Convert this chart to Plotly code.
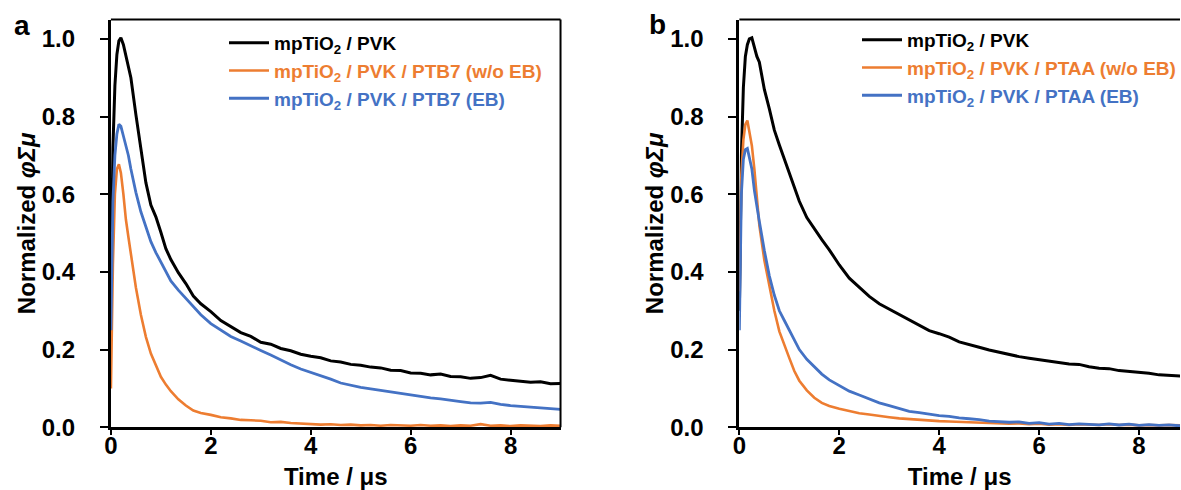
import plotly.graph_objects as go

# ---------------- data ----------------
t_head = [0, 0.04, 0.08, 0.12, 0.16, 0.2, 0.25, 0.3, 0.35, 0.4, 0.5, 0.6, 0.7, 0.8, 0.9,
          1.0, 1.1, 1.2, 1.35, 1.5, 1.65, 1.8, 2.0]
t_tail = [2.2, 2.4, 2.6, 2.8, 3.0, 3.2, 3.4, 3.6, 3.8, 4.0, 4.2, 4.4, 4.6, 4.8, 5.0,
          5.2, 5.4, 5.6, 5.8, 6.0, 6.2, 6.4, 6.6, 6.8, 7.0, 7.2, 7.4, 7.6, 7.8, 8.0,
          8.2, 8.4, 8.6, 8.8, 9.0]
time_us = t_head + t_tail

# panel a
a_pvk = [0.30, 0.72, 0.88, 0.96, 0.995, 1.003, 0.985, 0.955, 0.93, 0.90, 0.805, 0.715, 0.63,
         0.572, 0.542, 0.502, 0.460, 0.432, 0.398, 0.370, 0.338, 0.318, 0.298,
         0.275, 0.260, 0.244, 0.234, 0.219, 0.214, 0.203, 0.197, 0.188, 0.183, 0.179,
         0.171, 0.168, 0.162, 0.160, 0.155, 0.153, 0.147, 0.146, 0.140, 0.139, 0.135,
         0.137, 0.131, 0.130, 0.126, 0.128, 0.134, 0.124, 0.121, 0.119, 0.116, 0.117,
         0.112, 0.113]
a_ptb7_woeb = [0.10, 0.42, 0.60, 0.665, 0.677, 0.655, 0.60, 0.535, 0.49, 0.447, 0.36, 0.29,
               0.233, 0.19, 0.158, 0.130, 0.110, 0.093, 0.072, 0.056, 0.043, 0.037, 0.032,
               0.026, 0.023, 0.019, 0.018, 0.017, 0.013, 0.014, 0.011, 0.010, 0.009, 0.007,
               0.008, 0.006, 0.007, 0.005, 0.006, 0.004, 0.006, 0.005, 0.004, 0.006, 0.004,
               0.005, 0.003, 0.005, 0.004, 0.008, 0.004, 0.005, 0.003, 0.005, 0.004, 0.003,
               0.005, 0.004]
a_ptb7_eb = [0.25, 0.58, 0.70, 0.755, 0.78, 0.775, 0.75, 0.725, 0.70, 0.665, 0.605, 0.555,
             0.515, 0.478, 0.450, 0.425, 0.400, 0.377, 0.353, 0.332, 0.310, 0.290, 0.267,
             0.250, 0.234, 0.222, 0.209, 0.198, 0.186, 0.173, 0.161, 0.150, 0.142, 0.132,
             0.124, 0.114, 0.108, 0.103, 0.099, 0.095, 0.091, 0.087, 0.084, 0.080, 0.076,
             0.073, 0.069, 0.066, 0.063, 0.062, 0.064, 0.059, 0.056, 0.054, 0.051, 0.049,
             0.047, 0.046]

# panel b
b_pvk = [0.30, 0.70, 0.875, 0.955, 0.985, 1.0, 1.003, 0.98, 0.955, 0.94, 0.87, 0.82, 0.765,
         0.727, 0.69, 0.655, 0.615, 0.582, 0.540, 0.510, 0.483, 0.457, 0.418,
         0.384, 0.360, 0.337, 0.318, 0.304, 0.291, 0.276, 0.262, 0.249, 0.241, 0.232,
         0.220, 0.212, 0.206, 0.199, 0.193, 0.189, 0.182, 0.178, 0.174, 0.170, 0.166,
         0.163, 0.162, 0.156, 0.152, 0.151, 0.146, 0.144, 0.141, 0.139, 0.135, 0.134,
         0.132, 0.131]
b_ptaa_woeb = [0.35, 0.65, 0.74, 0.78, 0.79, 0.765, 0.725, 0.665, 0.59, 0.52, 0.43, 0.36,
               0.30, 0.247, 0.21, 0.178, 0.145, 0.120, 0.095, 0.076, 0.063, 0.055, 0.048,
               0.042, 0.036, 0.033, 0.029, 0.026, 0.023, 0.021, 0.019, 0.018, 0.016, 0.015,
               0.014, 0.013, 0.012, 0.011, 0.010, 0.009, 0.010, 0.008, 0.009, 0.007, 0.008,
               0.006, 0.008, 0.007, 0.006, 0.008, 0.006, 0.007, 0.005, 0.006, 0.005, 0.006,
               0.005, 0.005]
b_ptaa_eb = [0.25, 0.60, 0.69, 0.715, 0.718, 0.695, 0.665, 0.61, 0.565, 0.53, 0.455, 0.39,
             0.34, 0.30, 0.275, 0.25, 0.222, 0.200, 0.175, 0.155, 0.137, 0.122, 0.107,
             0.093, 0.083, 0.073, 0.063, 0.056, 0.048, 0.041, 0.038, 0.034, 0.030, 0.028,
             0.024, 0.022, 0.020, 0.016, 0.015, 0.013, 0.014, 0.010, 0.012, 0.008, 0.010,
             0.007, 0.009, 0.008, 0.006, 0.009, 0.006, 0.008, 0.005, 0.007, 0.005, 0.006,
             0.004, 0.005]

x_ticks = [0, 2, 4, 6, 8]
y_ticks = [0.0, 0.2, 0.4, 0.6, 0.8, 1.0]
y_tick_text = ["0.0", "0.2", "0.4", "0.6", "0.8", "1.0"]

BLACK = "#000000"
ORANGE = "#ED7D31"
BLUE = "#4472C4"

names_a = ["mpTiO<sub>2</sub> / PVK",
           "mpTiO<sub>2</sub> / PVK / PTB7 (w/o EB)",
           "mpTiO<sub>2</sub> / PVK / PTB7 (EB)"]
names_b = ["mpTiO<sub>2</sub> / PVK",
           "mpTiO<sub>2</sub> / PVK / PTAA (w/o EB)",
           "mpTiO<sub>2</sub> / PVK / PTAA (EB)"]

FONT = "Liberation Sans, Arial, sans-serif"
W, H = 1181, 490

fig = go.Figure()

def add(y, name, color, width, xa, ya, leg, grp):
    fig.add_trace(go.Scatter(
        x=time_us, y=y, mode="lines", xaxis=xa, yaxis=ya,
        line=dict(color=color, width=width),
        name=f"<span style='color:{color}'>{name}</span>",
        legend=leg, legendgroup=grp, showlegend=True))

add(a_pvk, names_a[0], BLACK, 3.0, "x", "y", "legend", "a1")
add(a_ptb7_woeb, names_a[1], ORANGE, 2.6, "x", "y", "legend", "a2")
add(a_ptb7_eb, names_a[2], BLUE, 2.8, "x", "y", "legend", "a3")
add(b_pvk, names_b[0], BLACK, 3.0, "x2", "y2", "legend2", "b1")
add(b_ptaa_woeb, names_b[1], ORANGE, 2.6, "x2", "y2", "legend2", "b2")
add(b_ptaa_eb, names_b[2], BLUE, 2.8, "x2", "y2", "legend2", "b3")

# pixel geometry
ya_bot, ya_top = 427.3, 19.5
xa_l, xa_r = 111, 561
xb_l, xb_r = 740, 1181
ydom = [(H - ya_bot) / H, (H - ya_top) / H]

tickfont = dict(family=FONT, size=24, color="black", weight="bold")
titlefont = dict(family=FONT, size=24, color="black", weight="bold")

common_x = dict(showline=True, linewidth=3, linecolor="black", ticks="outside",
                ticklen=5, tickwidth=2, tickcolor="black", showgrid=False, zeroline=False,
                tickvals=x_ticks, tickfont=tickfont, automargin=False,
                ticklabelstandoff=-10,
                title=dict(text="Time / μs", font=titlefont, standoff=14))
common_y = dict(showline=True, linewidth=3, linecolor="black", ticks="outside",
                ticklen=8, tickwidth=2, tickcolor="black", showgrid=False, zeroline=False,
                tickvals=y_ticks, ticktext=y_tick_text, tickfont=tickfont,
                range=[0, 1.05], domain=ydom, automargin=False,
                ticklabelstandoff=20,
                title=dict(text="Normalized <i>φΣμ</i>", font=titlefont, standoff=0))

legfont = dict(family=FONT, size=19, weight="bold")

fig.update_layout(
    width=W, height=H, margin=dict(l=0, r=0, t=0, b=0),
    paper_bgcolor="white", plot_bgcolor="white",
    font=dict(family=FONT, color="black"),
    xaxis=dict(common_x, domain=[xa_l / W, xa_r / W], range=[0, 9], anchor="y"),
    yaxis=dict(common_y, anchor="x"),
    xaxis2=dict(common_x, domain=[xb_l / W, 1.0], range=[0, (xb_r - xb_l) / 50.0], anchor="y2"),
    yaxis2=dict(common_y, anchor="x2"),
    legend=dict(x=(228 - 4) / W, y=(H - 24) / H, xanchor="left", yanchor="top",
                bgcolor="rgba(0,0,0,0)", font=legfont,
                tracegroupgap=0, traceorder="grouped", itemwidth=40),
    legend2=dict(x=(862 - 4) / W, y=(H - 21) / H, xanchor="left", yanchor="top",
                 bgcolor="rgba(0,0,0,0)", font=legfont,
                 tracegroupgap=0, traceorder="grouped", itemwidth=40),
    showlegend=True,
)

# frame lines (top/right)
fig.add_shape(type="line", xref="x domain", yref="y domain", x0=0, x1=1, y0=1, y1=1,
              line=dict(color="black", width=2))
fig.add_shape(type="line", xref="x domain", yref="y domain", x0=1, x1=1, y0=0, y1=1,
              line=dict(color="black", width=2))
fig.add_shape(type="line", xref="x2 domain", yref="y2 domain", x0=0, x1=1, y0=1, y1=1,
              line=dict(color="black", width=2))

# panel letters
fig.add_annotation(text="a", x=22 / W, y=(H - 26) / H, xref="paper", yref="paper",
                   xanchor="center", yanchor="middle", showarrow=False,
                   font=dict(family=FONT, size=28, weight="bold", color="black"))
fig.add_annotation(text="b", x=658 / W, y=(H - 25) / H, xref="paper", yref="paper",
                   xanchor="center", yanchor="middle", showarrow=False,
                   font=dict(family=FONT, size=28, weight="bold", color="black"))

fig.write_html("out.html")
